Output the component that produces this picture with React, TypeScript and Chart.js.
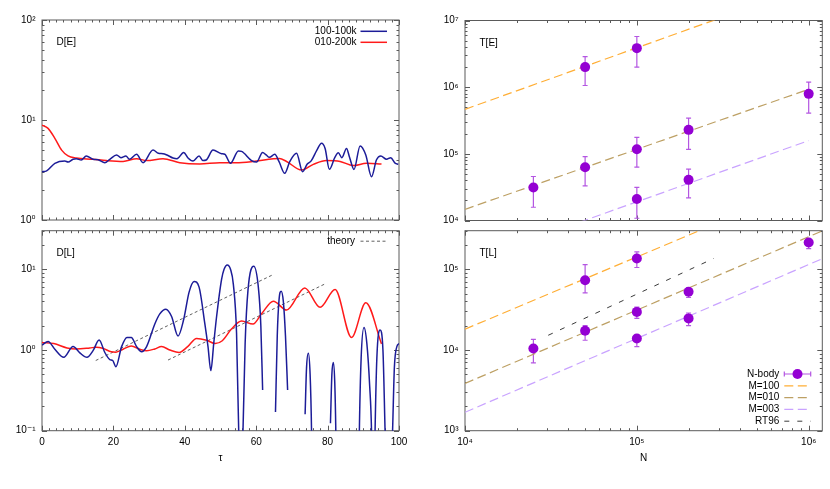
import React, { useEffect, useRef } from 'react';
import { Chart, registerables } from 'chart.js';

Chart.register(...registerables);

const FONT = '"Liberation Sans", "DejaVu Sans", Arial, sans-serif';
const FRAME = '#5a5a5a';
const BLUE = '#1c1c98';
const RED = '#ff1a1a';
const VIOLET = '#9400d3';
const ERRC = '#b456e2';
const ORANGE = '#ffae35';
const KHAKI = '#bda064';
const LAVENDER = '#c9a3ff';
const RTC = '#3a3a3a';
const THEORYC = '#606060';

// ---------- D[E] panel ----------
const tauDE100 = [0, 1.3, 3.6, 6.4, 7.3, 8.7, 9.6, 11, 12.4, 14.3, 15.7, 17.6, 19, 20.9, 22.1, 23.5, 24.5, 26.5, 28.3, 31.1, 32.6, 33.9, 34.8, 36.7, 37.8, 39.7, 40.9, 42.3, 44, 45.1, 46, 47.9, 50.3, 51.2, 52.8, 55, 55.9, 58.7, 60.1, 61.8, 62.8, 63.7, 65.2, 66.4, 68, 69.4, 71.3, 73, 74.3, 75.4, 77, 78.3, 79.3, 80.5, 82, 83, 84, 85.3, 86.1, 87.4, 89.1, 90.7, 92.3, 93.7, 94.9, 96.5, 97.7, 98.9, 99.8];
const valDE100 = [3.04, 3.1, 3.69, 3.89, 3.8, 4.05, 4.1, 3.98, 4.37, 4.05, 4.0, 3.74, 4.05, 4.47, 4.2, 4.37, 4.05, 4.54, 3.74, 5.0, 4.65, 4.6, 4.5, 4.17, 4.1, 4.74, 4.17, 3.89, 4.37, 3.93, 3.98, 5.0, 4.6, 4.55, 3.69, 4.9, 4.85, 3.93, 3.8, 4.74, 4.47, 4.23, 4.54, 3.83, 2.93, 3.83, 4.64, 3.04, 3.63, 3.9, 5.0, 5.85, 5.2, 3.21, 4.2, 4.7, 4.2, 5.2, 4.3, 3.2, 5.5, 4.47, 2.71, 4.0, 4.37, 4.05, 4.2, 3.7, 3.6];
const tauDE010 = [0, 1.7, 3.6, 5.5, 7.3, 9.6, 14.3, 18, 22.7, 26.5, 29.3, 33.9, 38.6, 44.2, 49.8, 54.4, 59.1, 64.8, 66.5, 68.5, 72.7, 76, 79.7, 83.5, 87.2, 90.9, 95.1];
const valDE010 = [8.9, 8.25, 6.56, 5.0, 4.37, 4.17, 4.05, 3.93, 3.85, 4.1, 3.93, 4.1, 3.74, 3.63, 3.74, 3.74, 3.85, 4.1, 4.12, 3.85, 3.16, 3.6, 3.93, 3.85, 3.5, 3.69, 3.63];

// ---------- D[L] panel ----------
const tauDL100 = [0, 1.7, 3.6, 6.1, 8.7, 10.6, 12.6, 14.3, 16, 17.6, 19, 19.8, 20.7, 22.3, 23.8, 25, 26.5, 27.9, 29.3, 31.6, 33, 34.7, 36.3, 38.1, 39.7, 41.2, 42.6, 44, 45.6, 46.5, 47.3, 48.1, 48.9, 50.3, 51, 51.9, 52.8, 53.6, 54.5, 55.1, 55.7, 56.3, 56.9, 57.7, 59.3, 60.6, 61.3, 61.8,
  63.5,
  65.4, 65.9, 66.4, 67, 67.6, 68.2, 68.8,
  71,
  73.7, 74.1, 74.6, 75.1, 75.5, 75.9,
  78,
  80.8, 81.2, 81.6, 82, 82.3, 82.7,
  85,
  88.5, 88.9, 89.4, 90.2, 91, 91.8, 92.3, 92.8, 93.3, 93.8, 94.7, 95.5, 96.1, 97, 98.2, 98.7, 99.4, 100];
const valDL100 = [1.15, 1.27, 1.02, 0.81, 1.1, 0.92, 0.81, 0.98, 1.33, 0.93, 0.76, 0.74, 0.62, 1.1, 1.43, 1.43, 1.1, 0.95, 1.1, 2.1, 2.8, 3.2, 2.6, 1.49, 2.4, 5.2, 7.05, 6.0, 2.13, 1.1, 0.555, 1.2, 2.58, 7.5, 10, 11.3, 10, 6.5, 1.6, 0.1, 0.002, 0.1, 1.2, 5.5, 10.9, 6, 2, 0.32,
  null,
  0.17, 1.5, 4.2, 5.35, 4.0, 1.5, 0.32,
  null,
  0.16, 0.6, 0.91, 0.5, 0.1, 0.003,
  null,
  0.124, 0.5, 0.7, 0.4, 0.1, 0.003,
  null,
  0.003, 0.1, 0.8, 1.9, 1.2, 0.35, 0.1, 0.003, 0.1, 0.8, 1.77, 1.0, 0.1, 0.003, 0.1, 0.6, 1.1, 1.2];
const tauDL010 = [0, 3.3, 7, 9.6, 13.4, 15.2, 17, 19.4, 20.7, 22.7, 25, 27.4, 29.3, 31.6, 33.5, 35.8, 38.4, 40.8, 43.3, 46.1, 48.5, 50.5, 53, 55.9, 59.1, 61.5, 64.8, 68.5, 73.6, 77.9, 82.1, 86.7, 90.7, 95.1];
const valDL010 = [1.24, 1.2, 1.06, 1.03, 1.06, 1.08, 1.05, 0.95, 0.94, 1.02, 1.12, 1.02, 0.98, 1.03, 1.1, 1.0, 0.93, 1.1, 1.39, 1.32, 1.2, 1.3, 1.8, 2.28, 2.09, 2.8, 4.02, 3.12, 5.87, 3.37, 5.6, 1.43, 3.84, 1.19];
const theory1Tau = [15.05, 64.8];
const theory1Val = [0.74, 8.6];
const theory2Tau = [35.3, 79.5];
const theory2Val = [0.75, 6.65];

// ---------- T[E] / T[L] panels ----------
const nbodyN = [2.5e4, 5e4, 5e4, 1e5, 1e5, 1e5, 2e5, 2e5, 1e6];
const teVal = [3.13e4, 6.3e4, 2.0e6, 3.85e6, 1.17e5, 2.1e4, 2.29e5, 4.07e4, 7.94e5];
const teLo = [1.58e4, 3.3e4, 1.06e6, 2.0e6, 6.3e4, 1.08e4, 1.17e5, 2.19e4, 4.07e5];
const teHi = [4.57e4, 9.1e4, 2.88e6, 5.75e6, 1.76e5, 3.15e4, 3.43e5, 5.9e4, 1.19e6];
const tlVal = [1.04e4, 7.3e4, 1.73e4, 1.36e5, 2.96e4, 1.39e4, 5.25e4, 2.46e4, 2.14e5];
const tlLo = [6.9e3, 5.1e4, 1.32e4, 1.05e5, 2.46e4, 1.1e4, 4.47e4, 2.0e4, 1.8e5];
const tlHi = [1.35e4, 1.14e5, 2.01e4, 1.64e5, 3.4e4, 1.53e4, 5.85e4, 2.87e4, 2.35e5];

const teM100N = [1e4, 1.2e6];
const teM100T = [4.65e5, 3.86e7];
const teM010N = [1e4, 1e6];
const teM010T = [1.47e4, 9.3e5];
const teM003N = [1e4, 1e6];
const teM003T = [2.3e3, 1.58e5];

const tlModelN = [1e4, 1.2e6];
const tlM100T = [1.81e4, 1.31e6];
const tlM010T = [3.85e3, 2.98e5];
const tlM003T = [1.69e3, 1.35e5];
const rt96N = [3.05e4, 2.8e5];
const rt96T = [1.52e4, 1.36e5];

// ---------- helpers ----------
const SUP: Record<string, string> = { '-': '\u207B', '0': '\u2070', '1': '\u00B9', '2': '\u00B2', '3': '\u00B3', '4': '\u2074', '5': '\u2075', '6': '\u2076', '7': '\u2077', '8': '\u2078', '9': '\u2079' };
const powLabel = (v: number) => '10' + String(Math.round(Math.log10(v))).split('').map((c) => SUP[c]).join('');
const pts = (xs: number[], ys: (number | null)[]) => xs.map((x, i) => ({ x, y: ys[i] }));

type Tk = { v: number; major: boolean };
function logTicks(min: number, max: number): Tk[] {
  const out: Tk[] = [];
  for (let d = Math.floor(Math.log10(min)); d <= Math.ceil(Math.log10(max)); d++) {
    for (let k = 1; k < 10; k++) {
      const v = k * Math.pow(10, d);
      if (v >= min * 0.9999 && v <= max * 1.0001) out.push({ v, major: k === 1 });
    }
  }
  return out;
}
function linTicks(min: number, max: number, minor: number, major: number): Tk[] {
  const out: Tk[] = [];
  const n = Math.round((max - min) / minor);
  for (let i = 0; i <= n; i++) {
    const v = min + i * minor;
    out.push({ v, major: Math.abs(v / major - Math.round(v / major)) < 1e-6 });
  }
  return out;
}

const tickFont = { family: FONT, size: 10 };

function yLog(min: number, max: number, width: number) {
  return {
    type: 'logarithmic',
    min,
    max,
    position: 'left',
    afterBuildTicks: (s: any) => {
      s.ticks = logTicks(min, max).filter((t) => t.major).map((t) => ({ value: t.v }));
    },
    ticks: { callback: (v: any) => powLabel(Number(v)), font: tickFont, color: '#000', padding: 6.5, autoSkip: false, maxRotation: 0 },
    grid: { display: false, drawTicks: false },
    border: { display: false },
    afterFit: (s: any) => {
      s.width = width;
    },
  };
}

function xTau(showLabels: boolean) {
  return {
    type: 'linear',
    min: 0,
    max: 100,
    ticks: { display: showLabels, stepSize: 20, font: tickFont, color: '#000', padding: 6, maxRotation: 0 },
    grid: { display: false, drawTicks: false },
    border: { display: false },
    title: { display: showLabels, text: '\u03C4', font: { family: FONT, size: 10 }, color: '#000', padding: 0 },
    afterFit: (s: any) => {
      s.height = showLabels ? 33.6 : 0;
    },
  };
}

function xN(showLabels: boolean) {
  const min = 1e4;
  const max = 1.2e6;
  return {
    type: 'logarithmic',
    min,
    max,
    afterBuildTicks: (s: any) => {
      s.ticks = logTicks(min, max).filter((t) => t.major).map((t) => ({ value: t.v }));
    },
    ticks: { display: showLabels, callback: (v: any) => powLabel(Number(v)), font: tickFont, color: '#000', padding: 6, autoSkip: false, maxRotation: 0 },
    grid: { display: false, drawTicks: false },
    border: { display: false },
    title: { display: showLabels, text: 'N', font: { family: FONT, size: 10 }, color: '#000', padding: 0 },
    afterFit: (s: any) => {
      s.height = showLabels ? 33.6 : 0;
    },
  };
}

type LegendSpec = { textRight: number; x0: number; x1: number; y0: number; step: number; fromBottom?: boolean };

function panelPlugin(o: {
  id: string;
  label: string;
  xTicks: { bottom: Tk[]; top: Tk[] };
  yTicks: Tk[];
  legend?: LegendSpec;
  errors?: { xs: number[]; lo: number[]; hi: number[] };
}) {
  return {
    id: o.id,
    beforeDatasetsDraw(chart: any) {
      const { ctx, chartArea: a, scales } = chart;
      const sx = scales.x;
      const sy = scales.y;
      ctx.save();
      ctx.strokeStyle = FRAME;
      ctx.lineWidth = 1;
      ctx.beginPath();
      for (const t of o.xTicks.bottom) {
        const px = Math.round(sx.getPixelForValue(t.v)) + 0.5;
        const L = t.major ? 5 : 2.5;
        ctx.moveTo(px, a.bottom);
        ctx.lineTo(px, a.bottom - L);
      }
      for (const t of o.xTicks.top) {
        const px = Math.round(sx.getPixelForValue(t.v)) + 0.5;
        const L = t.major ? 5 : 2.5;
        ctx.moveTo(px, a.top);
        ctx.lineTo(px, a.top + L);
      }
      for (const t of o.yTicks) {
        const py = Math.round(sy.getPixelForValue(t.v)) + 0.5;
        const L = t.major ? 5 : 2.5;
        ctx.moveTo(a.left, py);
        ctx.lineTo(a.left + L, py);
        ctx.moveTo(a.right, py);
        ctx.lineTo(a.right - L, py);
      }
      ctx.stroke();
      ctx.strokeRect(a.left, a.top, a.right - a.left, a.bottom - a.top);
      if (o.errors) {
        const { xs, lo, hi } = o.errors;
        ctx.strokeStyle = ERRC;
        ctx.lineWidth = 1.2;
        ctx.beginPath();
        xs.forEach((n, i) => {
          const px = sx.getPixelForValue(n);
          const p1 = sy.getPixelForValue(lo[i]);
          const p2 = sy.getPixelForValue(hi[i]);
          ctx.moveTo(px, p1);
          ctx.lineTo(px, p2);
          ctx.moveTo(px - 2.5, p1);
          ctx.lineTo(px + 2.5, p1);
          ctx.moveTo(px - 2.5, p2);
          ctx.lineTo(px + 2.5, p2);
        });
        ctx.stroke();
      }
      ctx.restore();
    },
    afterDraw(chart: any) {
      const { ctx, chartArea: a } = chart;
      ctx.save();
      ctx.font = `10px ${FONT}`;
      ctx.fillStyle = '#000';
      ctx.textAlign = 'left';
      ctx.textBaseline = 'middle';
      ctx.fillText(o.label, a.left + 14.5, a.top + 22.7);
      if (o.legend) {
        const L = o.legend;
        const entries = chart.data.datasets.filter((d: any) => d.label);
        entries.forEach((d: any, i: number) => {
          const y = (L.fromBottom ? a.bottom : a.top) + L.y0 + i * L.step;
          const tr = a.right + L.textRight;
          const x0 = a.right + L.x0;
          const x1 = a.right + L.x1;
          ctx.fillStyle = '#000';
          ctx.textAlign = 'right';
          ctx.fillText(d.label, tr, y);
          if (d.showLine === false) {
            ctx.strokeStyle = ERRC;
            ctx.lineWidth = 1.2;
            ctx.setLineDash([]);
            ctx.beginPath();
            ctx.moveTo(x0, y);
            ctx.lineTo(x1, y);
            ctx.moveTo(x0, y - 2.5);
            ctx.lineTo(x0, y + 2.5);
            ctx.moveTo(x1, y - 2.5);
            ctx.lineTo(x1, y + 2.5);
            ctx.stroke();
            ctx.fillStyle = d.pointBackgroundColor;
            ctx.beginPath();
            ctx.arc((x0 + x1) / 2, y, d.pointRadius, 0, Math.PI * 2);
            ctx.fill();
          } else {
            ctx.strokeStyle = d.borderColor;
            ctx.lineWidth = d.borderWidth;
            ctx.setLineDash(d.borderDash || []);
            ctx.beginPath();
            ctx.moveTo(x0, y);
            ctx.lineTo(x1, y);
            ctx.stroke();
            ctx.setLineDash([]);
          }
        });
      }
      ctx.restore();
    },
  };
}

const baseOptions = (padding: any, scales: any) => ({
  responsive: false,
  animation: false,
  events: [],
  layout: { padding },
  plugins: { legend: { display: false }, tooltip: { enabled: false } },
  scales,
});

const curve = (label: string, data: any[], color: string) => ({
  label,
  data,
  borderColor: color,
  backgroundColor: color,
  borderWidth: 1.5,
  pointRadius: 0,
  cubicInterpolationMode: 'monotone',
  spanGaps: false,
  fill: false,
});

const dashed = (label: string, data: any[], color: string, dash: number[], width = 1.2) => ({
  label,
  data,
  borderColor: color,
  backgroundColor: color,
  borderWidth: width,
  borderDash: dash,
  pointRadius: 0,
  tension: 0,
  fill: false,
});

const nbody = (vals: number[]) => ({
  label: 'N-body',
  data: pts(nbodyN, vals),
  showLine: false,
  pointRadius: 5,
  pointBackgroundColor: VIOLET,
  pointBorderColor: VIOLET,
  pointBorderWidth: 0,
  borderColor: VIOLET,
  backgroundColor: VIOLET,
});

const makeDE = () => ({
  type: 'line',
  data: {
    datasets: [curve('100-100k', pts(tauDE100, valDE100), BLUE), curve('010-200k', pts(tauDE010, valDE010), RED)],
  },
  options: baseOptions({ left: 0, top: 20, right: 431, bottom: 269 }, { x: xTau(false), y: yLog(1, 100, 42) }),
  plugins: [
    panelPlugin({
      id: 'pDE',
      label: 'D[E]',
      xTicks: { bottom: linTicks(0, 100, 2, 20), top: linTicks(0, 100, 2, 20) },
      yTicks: logTicks(1, 100),
      legend: { textRight: -42.5, x0: -38.5, x1: -12, y0: 11.3, step: 11 },
    }),
  ],
});

const makeDL = () => ({
  type: 'line',
  data: {
    datasets: [
      curve('', pts(tauDL100, valDL100), BLUE),
      curve('', pts(tauDL010, valDL010), RED),
      dashed('theory', pts(theory1Tau, theory1Val), THEORYC, [3, 2.5], 1),
      dashed('', pts(theory2Tau, theory2Val), THEORYC, [3, 2.5], 1),
    ],
  },
  options: baseOptions({ left: 0, top: 230.7, right: 431, bottom: 24.7 }, { x: xTau(true), y: yLog(0.1, 30, 42) }),
  plugins: [
    panelPlugin({
      id: 'pDL',
      label: 'D[L]',
      xTicks: { bottom: linTicks(0, 100, 2, 20), top: linTicks(0, 100, 2, 20) },
      yTicks: logTicks(0.1, 30),
      legend: { textRight: -44, x0: -38.5, x1: -12, y0: 10.5, step: 11 },
    }),
  ],
});

const makeTE = () => ({
  type: 'line',
  data: {
    datasets: [
      nbody(teVal),
      dashed('M=100', pts(teM100N, teM100T), ORANGE, [9, 4.5]),
      dashed('M=010', pts(teM010N, teM010T), KHAKI, [9, 4.5]),
      dashed('M=003', pts(teM003N, teM003T), LAVENDER, [9, 4.5]),
    ],
  },
  options: baseOptions({ left: 415, top: 20.5, right: 7.7, bottom: 268.5 }, { x: xN(false), y: yLog(1e4, 1e7, 50) }),
  plugins: [
    panelPlugin({
      id: 'pTE',
      label: 'T[E]',
      xTicks: { bottom: logTicks(1e4, 1.2e6), top: logTicks(1e4, 1.2e6) },
      yTicks: logTicks(1e4, 1e7),
      errors: { xs: nbodyN, lo: teLo, hi: teHi },
    }),
  ],
});

const makeTL = () => ({
  type: 'line',
  data: {
    datasets: [
      nbody(tlVal),
      dashed('M=100', pts(tlModelN, tlM100T), ORANGE, [9, 4.5]),
      dashed('M=010', pts(tlModelN, tlM010T), KHAKI, [9, 4.5]),
      dashed('M=003', pts(tlModelN, tlM003T), LAVENDER, [9, 4.5]),
      dashed('RT96', pts(rt96N, rt96T), RTC, [5, 8], 1),
    ],
  },
  options: baseOptions({ left: 415, top: 230.7, right: 7.7, bottom: 24.7 }, { x: xN(true), y: yLog(1e3, 3e5, 50) }),
  plugins: [
    panelPlugin({
      id: 'pTL',
      label: 'T[L]',
      xTicks: { bottom: logTicks(1e4, 1.2e6), top: logTicks(1e4, 1.2e6) },
      yTicks: logTicks(1e3, 3e5),
      errors: { xs: nbodyN, lo: tlLo, hi: tlHi },
      legend: { textRight: -43, x0: -38, x1: -11.6, y0: -56.7, step: 11.8, fromBottom: true },
    }),
  ],
});

function Panel({ make }: { make: () => any }) {
  const ref = useRef<HTMLCanvasElement>(null);
  useEffect(() => {
    const chart = new Chart(ref.current as HTMLCanvasElement, make() as any);
    return () => chart.destroy();
  }, [make]);
  return (
    <canvas
      ref={ref}
      width={830}
      height={489}
      style={{ position: 'absolute', left: 0, top: 0, width: 830, height: 489, pointerEvents: 'none' }}
    />
  );
}

export default function App() {
  return (
    <div style={{ position: 'fixed', left: 0, top: 0, width: 830, height: 489, background: '#ffffff', overflow: 'hidden' }}>
      <Panel make={makeDE} />
      <Panel make={makeDL} />
      <Panel make={makeTE} />
      <Panel make={makeTL} />
    </div>
  );
}
